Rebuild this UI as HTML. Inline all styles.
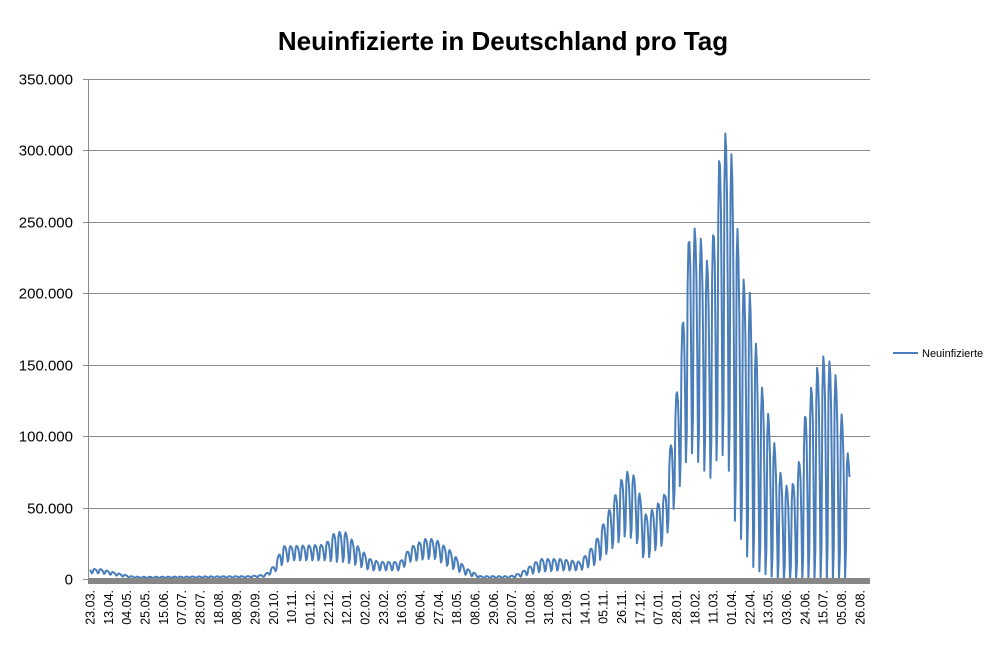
<!DOCTYPE html>
<html><head><meta charset="utf-8"><style>
body{margin:0;background:#fff;width:1006px;height:654px;overflow:hidden;font-family:"Liberation Sans",sans-serif}
</style></head><body>
<svg id="s" width="1006" height="654" xmlns="http://www.w3.org/2000/svg" font-family="Liberation Sans, sans-serif">
<text x="503" y="50" text-anchor="middle" font-size="26" font-weight="bold">Neuinfizierte in Deutschland pro Tag</text>
<g id="grid" stroke="#8c8c8c" stroke-width="1"></g>
<g id="yl" font-size="15" text-anchor="end" fill="#000"></g>
<g id="xl" font-size="12.5" fill="#000"></g>
<line x1="88.5" y1="79" x2="88.5" y2="584" stroke="#8c8c8c"/>
<polyline id="p" fill="none" stroke="#4a7ebb" stroke-width="2" stroke-linejoin="round"/>
<rect x="88" y="578" width="782" height="6" fill="#878787"/>
<line x1="893" y1="353" x2="918" y2="353" stroke="#4a7ebb" stroke-width="2"/>
<text x="922" y="357" font-size="11">Neuinfizierte</text>
</svg>
<script>
var ns="http://www.w3.org/2000/svg",g=document.getElementById('grid'),yl=document.getElementById('yl'),xl=document.getElementById('xl');
function Y(v){return 579-v*500/350;}
var labs=["0","50.000","100.000","150.000","200.000","250.000","300.000","350.000"];
for(var i=0;i<8;i++){var y=Math.round(Y(i*50))+0.5;if(i>0){var l=document.createElementNS(ns,'line');l.setAttribute('x1',88);l.setAttribute('x2',870);l.setAttribute('y1',y);l.setAttribute('y2',y);g.appendChild(l);}
var k=document.createElementNS(ns,'line');k.setAttribute('x1',83);k.setAttribute('x2',88);k.setAttribute('y1',y);k.setAttribute('y2',y);g.appendChild(k);
var t=document.createElementNS(ns,'text');t.setAttribute('x',73);t.setAttribute('y',y+5);t.textContent=labs[i];yl.appendChild(t);}
var xs="23.03. 13.04. 04.05. 25.05. 15.06. 07.07. 28.07. 18.08. 08.09. 29.09. 20.10. 10.11. 01.12. 22.12. 12.01. 02.02. 23.02. 16.03. 06.04. 27.04. 18.05. 08.06. 29.06. 20.07. 10.08. 31.08. 21.09. 14.10. 05.11. 26.11. 17.12. 07.01. 28.01. 18.02. 11.03. 01.04. 22.04. 13.05. 03.06. 24.06. 15.07. 05.08. 26.08.".split(" ");
for(var i=0;i<xs.length;i++){var x=90+i*18.33;var t=document.createElementNS(ns,'text');t.setAttribute('transform','translate('+(x+4.5)+',590) rotate(-90)');t.setAttribute('text-anchor','end');t.textContent=xs[i];xl.appendChild(t);}
var K=[[90,7,4],[100,7,4],[130,2,1],[140,1.5,.5],[250,2,1],[265,3,1.5],[275,10,5],[282,23,10],[290,23,13],[325,24,13],[335,33,12],[345,33,12],[355,25,10],[370,14,6],[380,12,6],[400,12,6],[410,22,12],[425,28,14],[435,28,14],[450,20,8],[465,8,3],[480,2,.5],[510,2,.5],[520,4,1.5],[540,14,5],[560,14,6],[580,12,6],[595,25,10],[610,50,20],[625,76,30],[635,72,28],[645,45,12],[655,50,20],[665,60,25],[670,90,40],[678,140,60],[685,200,80],[690,250,90],[700,240,80],[710,215,70],[720,300,90],[728,318,80],[735,275,40],[740,215,30],[750,200,10],[760,140,5],[770,110,2],[780,75,0],[790,60,0],[800,85,0],[806,120,0],[815,145,0],[825,158,0],[835,145,0],[845,100,0],[850,78,40]];
function env(x){for(var i=1;i<K.length;i++){if(x<=K[i][0]){var a=K[i-1],b=K[i],f=(x-a[0])/(b[0]-a[0]);return [a[1]+f*(b[1]-a[1]),a[2]+f*(b[2]-a[2])];}}return [K[K.length-1][1],K[K.length-1][2]];}
var w=[0.85,1,0.95,0.8,0.45,0,0.15],pts=[];
for(var d=0;d<=868;d++){var x=90+d*0.875;if(x>850)break;var e=env(x);var v=e[1]+(e[0]-e[1])*w[(d+3)%7];pts.push(x.toFixed(1)+","+Y(v).toFixed(1));}
document.getElementById('p').setAttribute('points',pts.join(" "));
</script>
</body></html>
